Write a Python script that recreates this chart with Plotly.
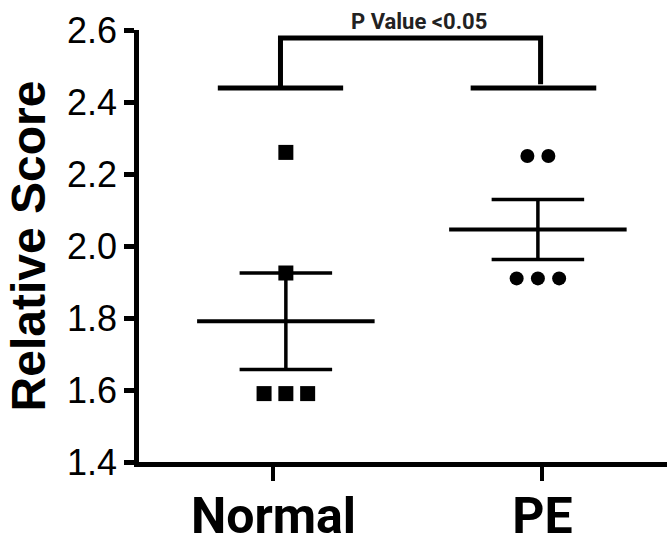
import numpy as np
import plotly.graph_objects as go

# ---- data ----
groups = ["Normal", "PE"]
normal_values = [2.26, 1.925, 1.59, 1.59, 1.59]
pe_values = [2.25, 2.25, 1.91, 1.91, 1.91]
y_ticks = [1.4, 1.6, 1.8, 2.0, 2.2, 2.4, 2.6]
p_label = "P Value <0.05"

# ---- style / layout helpers ----
group_pos = [0, 1]
group_shift = [0.046, -0.017]          # GraphPad-style column offset
normal_jitter = [0.0, 0.0, -0.081, 0.0, 0.081]
pe_jitter = [-0.039, 0.039, -0.079, 0.0, 0.079]
mean_half = 0.33
cap_half = 0.172

fig = go.Figure()

series = [
    (normal_values, normal_jitter, "square"),
    (pe_values, pe_jitter, "circle"),
]

for i, (vals, jit, sym) in enumerate(series):
    c = group_pos[i] + group_shift[i]
    xs = [c + j for j in jit]
    fig.add_trace(go.Scatter(
        x=xs, y=vals, mode="markers",
        marker=dict(symbol=sym, size=15 if sym == "square" else 14, color="black",
                    line=dict(width=0)),
        showlegend=False, hoverinfo="skip", cliponaxis=False,
    ))
    arr = np.array(vals)
    m = arr.mean()
    sem = arr.std(ddof=1) / np.sqrt(len(arr))
    # mean line
    fig.add_trace(go.Scatter(
        x=[c - mean_half, c + mean_half], y=[m, m], mode="lines",
        line=dict(color="black", width=4), showlegend=False, hoverinfo="skip"))
    # sem bars
    fig.add_trace(go.Scatter(
        x=[c - cap_half, c + cap_half, None, c - cap_half, c + cap_half, None, c, c],
        y=[m + sem, m + sem, None, m - sem, m - sem, None, m - sem, m + sem],
        mode="lines", line=dict(color="black", width=3.5),
        showlegend=False, hoverinfo="skip"))

# significance bracket
bracket_low = 2.439
bracket_high = 2.578
left_c, right_c = 0.026, 0.993
fig.add_trace(go.Scatter(
    x=[-0.207, 0.259, None, 0.733, 1.2, None, left_c, left_c, right_c, right_c],
    y=[bracket_low, bracket_low, None, bracket_low, bracket_low, None,
       bracket_low, bracket_high, bracket_high, bracket_low + 0.01],
    mode="lines", line=dict(color="black", width=5),
    showlegend=False, hoverinfo="skip", cliponaxis=False))

fig.add_annotation(
    x=0.54, y=bracket_high, xref="x", yref="y", yanchor="bottom", yshift=2,
    text="<b>" + p_label + "</b>", showarrow=False,
    font=dict(family="Roboto", size=22, color="#222"))

fig.update_layout(
    width=667, height=545,
    margin=dict(l=139, r=0, t=30, b=83),
    plot_bgcolor="white", paper_bgcolor="white",
    xaxis=dict(
        range=[-0.5, 1.463], tickvals=group_pos, ticktext=["<b>%s</b>" % g for g in groups],
        showline=True, linewidth=5, linecolor="black",
        ticks="outside", ticklen=14, tickwidth=4, tickcolor="black",
        tickfont=dict(family="Roboto", size=50, color="black"),
        ticklabelstandoff=-8,
        showgrid=False, zeroline=False, fixedrange=True, automargin=False,
    ),
    yaxis=dict(
        range=[1.4, 2.6], tickvals=y_ticks, tickformat=".1f",
        showline=True, linewidth=4.5, linecolor="black",
        ticks="outside", ticklen=10, tickwidth=4.5, tickcolor="black",
        tickfont=dict(family="Arial, Liberation Sans", size=36, color="black"),
        title=dict(text="<b>Relative Score</b>",
                   font=dict(family="Arial, Liberation Sans", size=48, color="black"),
                   standoff=8),
        showgrid=False, zeroline=False, fixedrange=True, automargin=False,
    ),
)

fig.write_html("out.html")
